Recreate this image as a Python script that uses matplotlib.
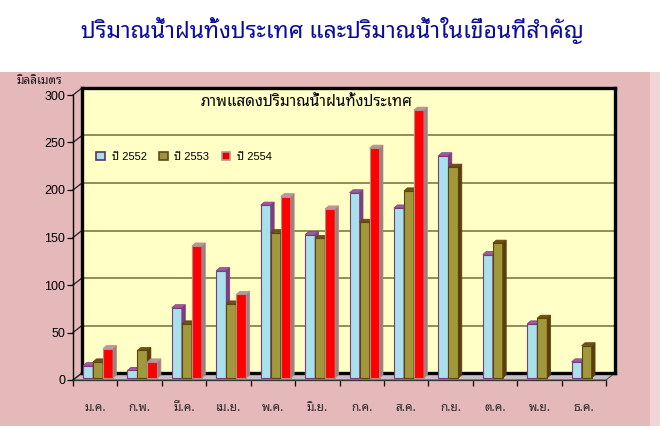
import numpy as np
import matplotlib
matplotlib.use('Agg')
import matplotlib.pyplot as plt
from matplotlib.patches import Polygon, Patch, Rectangle
from matplotlib.transforms import ScaledTranslation

# ข้อมูล (มิลลิเมตร)
months = ['ม.ค.', 'ก.พ.', 'มี.ค.', 'เม.ย.', 'พ.ค.', 'มิ.ย.',
          'ก.ค.', 'ส.ค.', 'ก.ย.', 'ต.ค.', 'พ.ย.', 'ธ.ค.']
rain_2552 = [13, 8, 74, 113, 182, 151, 195, 179, 234, 130, 57, 17]
rain_2553 = [17, 29, 57, 78, 153, 147, 164, 197, 222, 142, 63, 34]
rain_2554 = [31, 17, 139, 88, 191, 178, 242, 282, np.nan, np.nan, np.nan, np.nan]
series_labels = ['ปี 2552', 'ปี 2553', 'ปี 2554']
yticks = [0, 50, 100, 150, 200, 250, 300]

title = 'ปริมาณน้ำฝนทั้งประเทศ และปริมาณน้ำในเขื่อนที่สำคัญ'
inner_title = 'ภาพแสดงปริมาณน้ำฝนทั้งประเทศ'
unit_label = 'มิลลิเมตร'

THAI = ['Noto Sans Thai Looped', 'DejaVu Sans']
LATIN = ['Liberation Sans', 'Noto Sans Thai Looped', 'DejaVu Sans']

# สี: หน้า, ขอบ, ด้านข้าง, ด้านบน
face_c = ['#A8E0EC', '#A0983A', '#FF0000']
edge_c = ['#7A3C7C', '#5E4210', '#B88A8A']
side_c = ['#7E3E80', '#5C3E0C', '#9A8080']
top_c = ['#9A5AA6', '#6E5014', '#B89898']
legend_c = ['#B4D8F0', '#A09040', '#E00000']
legend_e = ['#4A3C5C', '#5E4A18', '#C09090']

W, H = 660, 426
fig = plt.figure(figsize=(W / 100, H / 100), dpi=100)
fig.patch.set_facecolor('white')
# พื้นหลังชมพู
fig.patches.append(Rectangle((0, 0), 650 / W, 1 - 72 / H, transform=fig.transFigure,
                             facecolor='#E5B8B9', edgecolor='none', zorder=-5))
fig.patches.append(Rectangle((650 / W, 0), 10 / W, 1 - 72 / H, transform=fig.transFigure,
                             facecolor='#F1D4D4', edgecolor='none', zorder=-5))

# ผนังหลัง
ab = fig.add_axes([82 / W, 1 - 373 / H, 533 / W, 285 / H], zorder=0)
# แกนหน้า
ax = fig.add_axes([73 / W, 1 - 380 / H, 533 / W, 285 / H], zorder=1)

for a in (ab, ax):
    a.set_xlim(-0.5, 11.5)
    a.set_ylim(0, 300)

ab.set_facecolor('#FFFFC6')
for s in ab.spines.values():
    s.set_linewidth(2.4)
    s.set_color('black')
ab.set_xticks([])
ab.set_yticks([])
for v in yticks[1:-1]:
    ab.axhline(v, color='#87864E', lw=1.3, zorder=0.5)

# ความลึกของผนัง (หน่วยข้อมูล)
DXd = 9 / (533 / 12)
DYd = 7 / (285 / 300)
floor = Polygon([(-0.5 - DXd, -DYd), (11.5 - DXd, -DYd), (11.5, 0), (-0.5, 0)],
                closed=True, facecolor='#C9BDC6', edgecolor='#555555', lw=0.8,
                clip_on=False, zorder=-1)
ab.add_patch(floor)
for v in yticks:
    ab.plot([-0.5 - DXd, -0.5], [v - DYd, v], color='#222222', lw=0.9, clip_on=False)

# แกนหน้า
ax.set_facecolor('none')
ax.spines['top'].set_visible(False)
ax.spines['right'].set_visible(False)
ax.spines['left'].set_color('black')
ax.spines['left'].set_linewidth(1.0)
ax.spines['bottom'].set_color('#333333')
ax.spines['bottom'].set_linewidth(0.9)
ax.set_yticks(yticks)
ax.set_yticklabels([str(v) for v in yticks], family=LATIN, fontsize=9)
ax.tick_params(axis='y', direction='out', length=4.5, width=0.9, pad=1)
ax.set_xticks(np.arange(-0.5, 12, 1))
ax.set_xticklabels([])
ax.tick_params(axis='x', which='major', direction='out', length=4.5, width=0.9)
ax.set_xticks(np.arange(12), minor=True)
ax.set_xticklabels(months, minor=True, family=THAI, fontsize=8.5, color='#2A2A2A')
ax.tick_params(axis='x', which='minor', length=0, pad=15)

# แท่ง 3 มิติ
BAR_W = 10 / (533 / 12)
GROUP_LEFT = 10 / (533 / 12)
bdx = 3.5 / (533 / 12)
bdy = 3.0 / (285 / 300)
trans = ax.transData + ScaledTranslation(0, 2 / 100, fig.dpi_scale_trans)

z = 2
for i in range(12):
    for k, vals in enumerate([rain_2552, rain_2553, rain_2554]):
        h = vals[i]
        if np.isnan(h):
            continue
        x0 = i - 0.5 + GROUP_LEFT + k * BAR_W
        x1 = x0 + BAR_W
        ax.bar(x0, h, width=BAR_W, align='edge', color=face_c[k], edgecolor=edge_c[k],
               lw=0.8, transform=trans, zorder=z, clip_on=False)
        ax.add_patch(Polygon([(x1, 0), (x1 + bdx, bdy), (x1 + bdx, h + bdy), (x1, h)],
                             closed=True, facecolor=side_c[k], edgecolor=edge_c[k], lw=0.5,
                             transform=trans, zorder=z, clip_on=False))
        ax.add_patch(Polygon([(x0, h), (x0 + bdx, h + bdy), (x1 + bdx, h + bdy), (x1, h)],
                             closed=True, facecolor=top_c[k], edgecolor=edge_c[k], lw=0.5,
                             transform=trans, zorder=z, clip_on=False))
        z += 0.01

# คำอธิบาย
handles = [Patch(facecolor=legend_c[k], edgecolor=legend_e[k], lw=1.2) for k in range(3)]
leg = fig.legend(handles, series_labels, loc='center left',
                 bbox_to_anchor=(86 / W, 1 - 157 / H), ncol=3, frameon=False,
                 handlelength=0.8, handleheight=0.8, handletextpad=0.6,
                 columnspacing=1.1, prop={'family': LATIN, 'size': 8})

fig.text(307 / W, 1 - 103 / H, inner_title, family=THAI, fontsize=11,
         ha='center', va='center', color='black')
fig.text(39 / W, 1 - 80 / H, unit_label, family=THAI, fontsize=8.5, fontweight='bold',
         ha='center', va='center', color='#1A1A1A')
fig.text(332 / W, 1 - 30 / H, title, family=THAI, fontsize=16.5,
         ha='center', va='center', color='#0B0B9C')

fig.savefig('out.png', dpi=100)
